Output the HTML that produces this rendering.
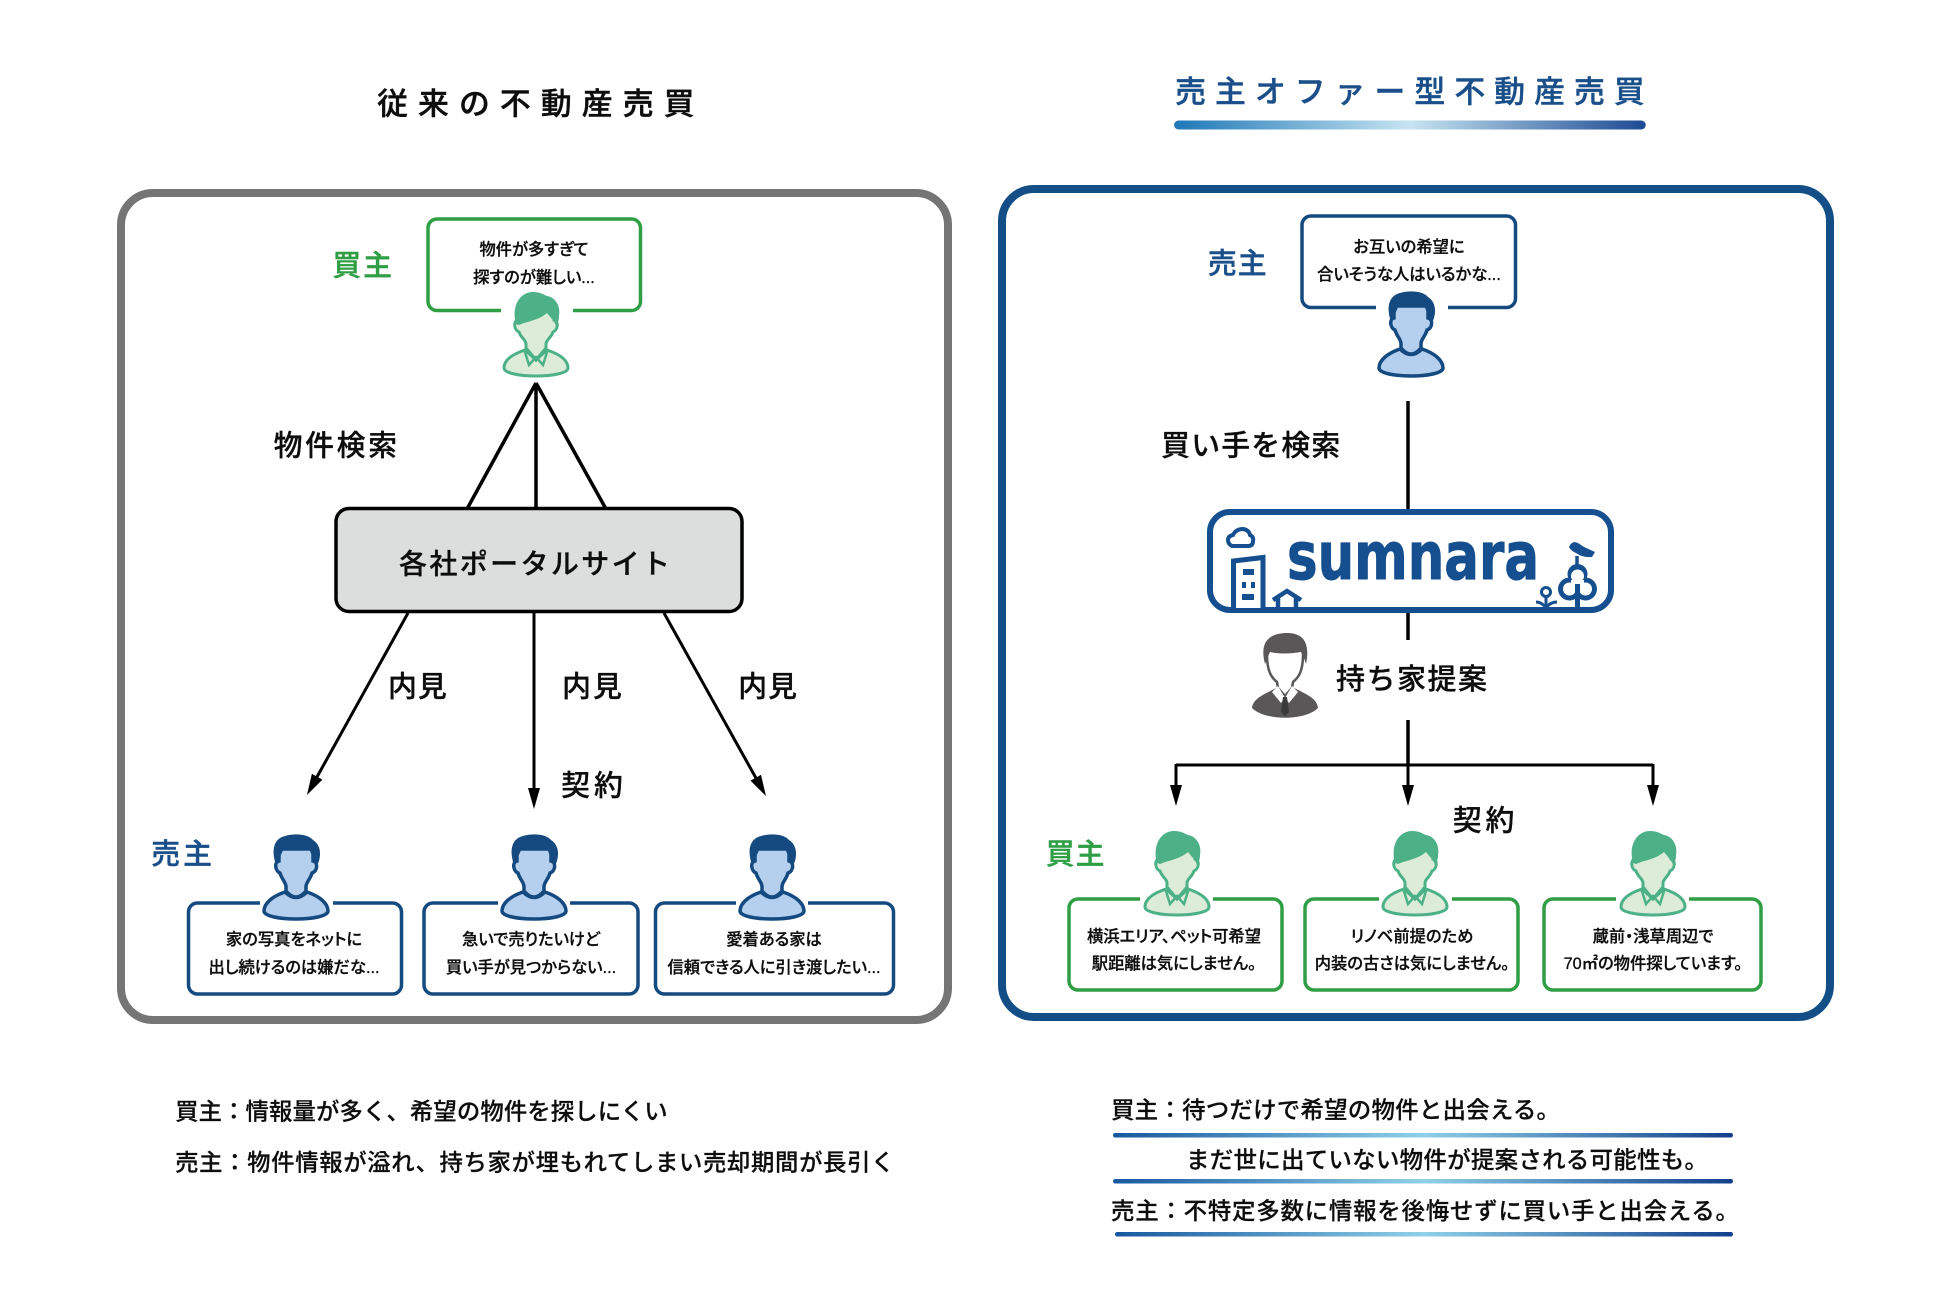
<!DOCTYPE html>
<html lang="ja">
<head>
<meta charset="utf-8">
<title>従来の不動産売買と売主オファー型不動産売買</title>
<style>
html,body{margin:0;padding:0;background:#fff;width:1950px;height:1300px;overflow:hidden}
svg{display:block}
text{font-family:"Liberation Sans","Noto Sans CJK JP",sans-serif;dominant-baseline:central;fill:#0d0d0d;font-weight:500}
.s{font-size:16.3px;text-anchor:middle;font-feature-settings:"palt";stroke:#0d0d0d;stroke-width:.3px}
.m{font-size:29px;stroke:#0d0d0d;stroke-width:.3px}
.b{font-size:23.5px;stroke:#0d0d0d;stroke-width:.2px}
.g{fill:#2f9e44;font-size:29px;stroke:#2f9e44;stroke-width:.4px}
.n{fill:#1a4f8a;font-size:29px;stroke:#1a4f8a;stroke-width:.4px}
</style>
</head>
<body>
<svg width="1950" height="1300" viewBox="0 0 1950 1300" xmlns="http://www.w3.org/2000/svg">
<defs>
<linearGradient id="ug" x1="0" x2="1" y1="0" y2="0">
<stop offset="0" stop-color="#1f78b8"/><stop offset=".5" stop-color="#c6e4f1"/><stop offset="1" stop-color="#1c4a94"/>
</linearGradient>
<linearGradient id="ul" x1="0" x2="1" y1="0" y2="0">
<stop offset="0" stop-color="#16589f"/><stop offset=".5" stop-color="#8fd0e8"/><stop offset="1" stop-color="#123f8c"/>
</linearGradient>
<marker id="arr" markerUnits="userSpaceOnUse" markerWidth="22" markerHeight="12" refX="10" refY="6" orient="auto">
<path d="M0,0 L21,6 L0,12 Z" fill="#000"/>
</marker>
<symbol id="pg" viewBox="0 0 66 85" overflow="visible">
<path d="M22,58 C10,62 1,68 1,76 C1,81 16,84 33,84 C50,84 65,81 65,76 C65,68 56,62 44,58 L33,68 Z" fill="#dcecd8" stroke="#4cb187" stroke-width="3"/>
<path d="M15,28 C10,29 11,38 16,40 C18,46 23,48 23,52 L23,56 L33,68 L43,56 L43,52 C43,48 48,46 50,40 C55,38 56,29 51,28 L51,18 H15 Z" fill="#dcecd8" stroke="#4cb187" stroke-width="3"/>
<path d="M21,57 L26,73 L33,65 L40,73 L45,57" fill="none" stroke="#4cb187" stroke-width="2.500"/>
<path d="M13,32 C8,14 17,0 30,0 C38,0 41,3 44,4 C52,5 58,14 56,24 C56,28 55,31 53,34 C52,30 48,26 44,21 C37,27 28,29 21,31 L16,33 Z" fill="#4cb187"/>
</symbol>
<symbol id="pb" viewBox="0 0 66 85" overflow="visible">
<path d="M22,57 C10,61 1,68 1,76 C1,81 16,84 33,84 C50,84 65,81 65,76 C65,68 56,61 44,57 Q33,68 22,57Z" fill="#b4d0ee" stroke="#154a80" stroke-width="3.500"/>
<path d="M16,26 C11,27 12,36 17,38 C19,45 23,47 23,52 L23,56 Q33,68 43,56 L43,52 C43,47 47,45 49,38 C55,36 55,27 50,26 L50,14 H16Z" fill="#b4d0ee" stroke="#154a80" stroke-width="3.500"/>
<path d="M13,30 C7,12 13,3 22,1 C32,-2 45,-1 50,5 C58,10 59,21 54,31 C52,25 48,20 46,13 C38,15 28,15 21,13 C19,18 16,24 13,30Z" fill="#154a80"/>
</symbol>
</defs>

<!-- Panels -->
<rect x="121" y="193" width="827" height="827" rx="32" fill="#fff" stroke="#757575" stroke-width="8"/>
<rect x="1002" y="189" width="828" height="828" rx="32" fill="#fff" stroke="#134f86" stroke-width="8"/>

<!-- Labels -->
<g transform="translate(0,1.500) scale(.995,.996)">
<text x="379" y="103" textLength="319" style="font-size:31px;stroke:#0d0d0d;stroke-width:.4px">従来の不動産売買</text>
<text x="1181" y="91" textLength="472" style="font-size:31px;fill:#1a4f8a;stroke:#1a4f8a;stroke-width:.4px">売主オファー型不動産売買</text>
<rect x="1180" y="119.500" width="474" height="9" rx="4.500" fill="url(#ug)"/>
<text class="g" x="334" y="266" textLength="60">買主</text>
<text class="m" x="275" y="447" textLength="124">物件検索</text>
<text class="m" x="390" y="689" textLength="59">内見</text>
<text class="m" x="565" y="689" textLength="60">内見</text>
<text class="m" x="742" y="689" textLength="59">内見</text>
<text class="m" x="564" y="788" textLength="62">契約</text>
<text class="n" x="152" y="857" textLength="61">売主</text>
<text class="b" x="176" y="1114.500" textLength="495">買主：情報量が多く、希望の物件を探しにくい</text>
<text class="b" x="176" y="1165.500" textLength="723">売主：物件情報が溢れ、持ち家が埋もれてしまい売却期間が長引く</text>
<text class="n" x="1214" y="264" textLength="59">売主</text>
<text class="m" x="1167" y="447" textLength="180">買い手を検索</text>
<text class="m" x="1460" y="823.500" textLength="62">契約</text>
<text class="g" x="1051" y="857" textLength="59">買主</text>
</g>

<!-- Left: top bubble and person -->
<rect x="428" y="219" width="212.500" height="91.500" rx="9" fill="#fff" stroke="#2f9e44" stroke-width="3.500"/>
<rect x="501" y="304" width="72" height="12" fill="#fff"/>
<text class="s" x="534" y="250">物件が多すぎて</text>
<text class="s" x="534" y="278">探すのが難しい...</text>
<use href="#pg" x="503" y="292" width="66" height="85"/>

<g stroke="#000" stroke-width="3.500" fill="none">
<path d="M536,383 L467,509 M536,383 L536,509 M536,383 L606,509"/>
</g>

<rect x="336" y="508.500" width="406" height="103" rx="13" fill="#dcdddd" stroke="#000" stroke-width="3.500"/>
<text x="399" y="564" textLength="271" style="font-size:28px;stroke:#0d0d0d;stroke-width:.3px">各社ポータルサイト</text>

<g stroke="#000" stroke-width="3" fill="none">
<path d="M408,613 L312.300,785.400" marker-end="url(#arr)"/>
<path d="M534,613 L534,798" marker-end="url(#arr)"/>
<path d="M664,613 L760.600,786.400" marker-end="url(#arr)"/>
</g>

<!-- Left: bottom boxes -->
<g fill="#fff" stroke="#154a80" stroke-width="3.500">
<rect x="188.500" y="903" width="213" height="91" rx="9"/>
<rect x="424" y="903" width="214" height="91" rx="9"/>
<rect x="655.500" y="903" width="238" height="91" rx="9"/>
</g>
<rect x="260" y="897" width="73" height="12" fill="#fff"/>
<rect x="498" y="897" width="72" height="12" fill="#fff"/>
<rect x="736" y="897" width="72" height="12" fill="#fff"/>
<use href="#pb" x="263" y="835" width="66" height="85"/>
<use href="#pb" x="501" y="835" width="66" height="85"/>
<use href="#pb" x="739" y="835" width="66" height="85"/>
<text class="s" x="294" y="940">家の写真をネットに</text>
<text class="s" x="294" y="968">出し続けるのは嫌だな...</text>
<text class="s" x="531" y="940">急いで売りたいけど</text>
<text class="s" x="531" y="968">買い手が見つからない...</text>
<text class="s" x="774" y="940">愛着ある家は</text>
<text class="s" x="774" y="968">信頼できる人に引き渡したい...</text>

<!-- Right: top bubble -->
<rect x="1302" y="216" width="213.500" height="91.500" rx="9" fill="#fff" stroke="#154a80" stroke-width="3.500"/>
<rect x="1376" y="301" width="72" height="12" fill="#fff"/>
<text class="s" x="1409" y="247.500">お互いの希望に</text>
<text class="s" x="1409" y="275">合いそうな人はいるかな...</text>
<use href="#pb" x="1378" y="292" width="66" height="85"/>

<!-- Right: connectors -->
<g stroke="#000" stroke-width="3.500" fill="none">
<path d="M1408,401 L1408,511 M1408,613 L1408,640 M1408,720 L1408,765"/>
</g>
<g stroke="#000" stroke-width="3" fill="none">
<path d="M1176,765 L1653,765"/>
<path d="M1176,764 L1176,795" marker-end="url(#arr)"/>
<path d="M1408,764 L1408,795" marker-end="url(#arr)"/>
<path d="M1653,764 L1653,795" marker-end="url(#arr)"/>
</g>

<!-- sumnara logo -->
<rect x="1210" y="512" width="401" height="98" rx="20" fill="#fff" stroke="#154f8f" stroke-width="6"/>
<text x="1287" y="579" textLength="252" lengthAdjust="spacingAndGlyphs" style="dominant-baseline:alphabetic;font-family:'DejaVu Sans',sans-serif;font-weight:700;font-size:66px;fill:#154f8f;stroke:#154f8f;stroke-width:1px;stroke-linejoin:round">sumnara</text>
<!-- building -->
<path d="M1233.500,608 V561 L1263,557.500 V608" fill="#fff" stroke="#154f8f" stroke-width="5"/>
<g fill="#154f8f">
<rect x="1243" y="569" width="11" height="6"/><rect x="1242" y="582" width="4" height="6"/><rect x="1251" y="582" width="4" height="6"/><rect x="1242" y="594" width="12" height="6"/>
</g>
<!-- cloud -->
<path d="M1232,546 Q1228,544 1228,540 Q1228,536 1233,535 Q1236,529 1243,529 Q1249,530 1250,535 Q1254,537 1253,541 Q1253,546 1248,546Z" fill="#fff" stroke="#154f8f" stroke-width="4"/>
<!-- house -->
<path d="M1273,600 L1287,591 L1301,600" fill="none" stroke="#154f8f" stroke-width="4.500"/>
<path d="M1278,598 V608 M1296,598 V608" fill="none" stroke="#154f8f" stroke-width="4.500"/>
<!-- bird -->
<path d="M1569,547 Q1572,540 1578,543 L1584,547 L1595,552 L1592,557 Q1583,558 1576,553 Q1571,551 1569,547Z" fill="#154f8f"/>
<path d="M1577,556 L1577,566" stroke="#154f8f" stroke-width="3.500"/>
<!-- tree -->
<g fill="#154f8f"><circle cx="1569.500" cy="589" r="11.500"/><circle cx="1585.500" cy="589" r="11.500"/><circle cx="1577.500" cy="574" r="10"/></g>
<g fill="#fff"><circle cx="1569.500" cy="589" r="6.500"/><circle cx="1585.500" cy="589" r="6.500"/><circle cx="1577.500" cy="576" r="6.500"/><rect x="1571" y="580" width="13" height="10"/></g>
<path d="M1577.500,584 V608" stroke="#154f8f" stroke-width="5"/>
<!-- flower -->
<circle cx="1546" cy="592" r="4.500" fill="#fff" stroke="#154f8f" stroke-width="3"/>
<path d="M1546,597 V608 M1536,602 Q1542,602 1546,608 Q1550,602 1557,602" fill="none" stroke="#154f8f" stroke-width="3"/>

<!-- agent -->
<g>
<path d="M1252,708 C1253,698 1265,694 1278,687 L1285,700 L1292,687 C1306,694 1317,698 1318,708 C1305,721 1265,721 1252,708Z" fill="#595757"/>
<path d="M1267,655 C1267,672 1272,678 1277,682 L1278,688 L1285,696 L1292,688 L1293,682 C1298,678 1303,672 1303,655 C1303,640 1267,640 1267,655Z" fill="#fff" stroke="#595757" stroke-width="2.500"/>
<path d="M1272,692 L1278,686 L1285,698 L1281,703Z M1298,692 L1292,686 L1285,698 L1289,703Z" fill="#fff"/>
<path d="M1265,664 C1260,645 1266,634 1285,633 C1305,632 1310,645 1306,664 C1304,658 1303,654 1301,652 C1290,654 1278,654 1270,652 C1268,656 1267,660 1265,664Z" fill="#595757"/>
<path d="M1283,697 L1287,697 L1289,712 L1285,716 L1281,712Z" fill="#3a3a3a"/>
</g>
<text class="m" x="1336" y="680" textLength="151">持ち家提案</text>

<!-- Right: bottom boxes -->
<g fill="#fff" stroke="#2f9e44" stroke-width="3.500">
<rect x="1069" y="899" width="213" height="91" rx="9"/>
<rect x="1305" y="899" width="213" height="91" rx="9"/>
<rect x="1544" y="899" width="217" height="91" rx="9"/>
</g>
<rect x="1140" y="893" width="73" height="12" fill="#fff"/>
<rect x="1379" y="893" width="73" height="12" fill="#fff"/>
<rect x="1616" y="893" width="73" height="12" fill="#fff"/>
<use href="#pg" x="1144" y="831" width="66" height="85"/>
<use href="#pg" x="1382" y="831" width="66" height="85"/>
<use href="#pg" x="1620" y="831" width="66" height="85"/>
<text class="s" x="1174" y="937">横浜エリア、ペット可希望</text>
<text class="s" x="1174" y="964">駅距離は気にしません。</text>
<text class="s" x="1412" y="937">リノベ前提のため</text>
<text class="s" x="1412" y="964">内装の古さは気にしません。</text>
<text class="s" x="1653" y="937">蔵前・浅草周辺で</text>
<text class="s" x="1653" y="964">70㎡の物件探しています。</text>

<text class="b" x="1111" y="1110" textLength="449">買主：待つだけで希望の物件と出会える。</text>
<rect x="1113" y="1133" width="620" height="4.500" rx="2.200" fill="url(#ul)"/>
<text class="b" x="1186" y="1160" textLength="522">まだ世に出ていない物件が提案される可能性も。</text>
<rect x="1113" y="1179" width="620" height="4.500" rx="2.200" fill="url(#ul)"/>
<text class="b" x="1111" y="1211" textLength="628">売主：不特定多数に情報を後悔せずに買い手と出会える。</text>
<rect x="1115" y="1232" width="618" height="4.500" rx="2.200" fill="url(#ul)"/>
</svg>
</body>
</html>
